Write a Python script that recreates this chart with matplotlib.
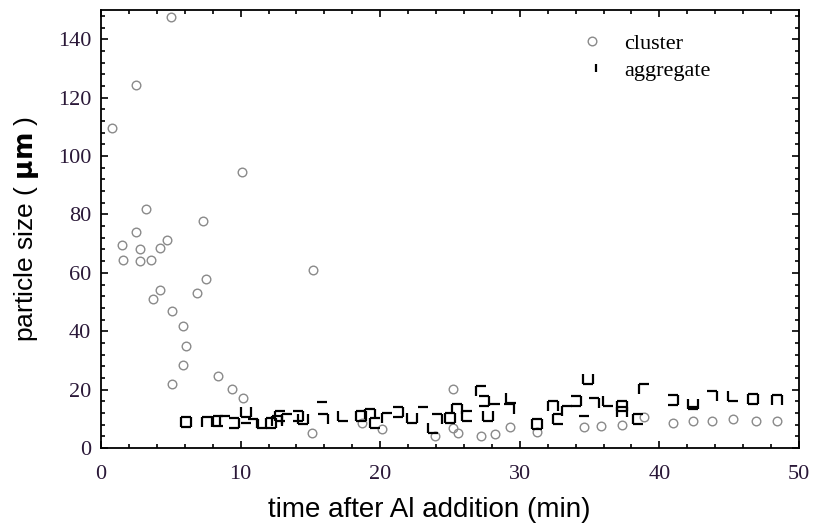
import matplotlib.pyplot as plt
import numpy as np
from matplotlib.path import Path

# cluster sizes (um) vs time (min)
cluster_t = [0.8, 2.5, 5.0, 10.1, 3.2, 7.3, 2.5, 1.5, 2.8, 4.7, 4.2, 1.6, 2.8, 3.6,
             3.7, 4.2, 5.1, 5.9, 6.1, 5.9, 5.1, 6.9, 7.5, 8.4, 9.4, 10.2, 15.2, 25.2,
             15.1, 18.7, 20.1, 23.9, 25.2, 25.6, 27.2, 28.2, 29.3, 31.2, 34.6,
             35.8, 37.3, 38.9, 41.0, 42.4, 43.8, 45.3, 46.9, 48.4]
cluster_d = [109.5, 124.5, 147.5, 94.5, 82, 77.6, 74, 69.7, 68, 71.4, 68.6, 64.5, 64, 64.5,
             51, 54, 47, 41.7, 35, 28.6, 22, 53, 58, 24.8, 20.3, 17, 61, 20.3,
             5, 8.7, 6.4, 4.1, 7, 5.3, 4.1, 4.8, 7.2, 5.5, 7.2,
             7.6, 7.8, 10.5, 8.7, 9.1, 9.3, 10, 9.3, 9.3]

# aggregate sizes (um) vs time (min)
aggr_t = [6.1, 7.6, 8.4, 8.9, 9.5, 10.4, 10.4, 10.9, 11.5, 12.2, 12.6, 12.8, 13.3, 14.1,
          14.5, 15.8, 15.9, 17.3, 18.6, 19.3, 19.6, 20.5, 21.3, 22.3, 23.1, 24.1, 23.8,
          25.0, 25.5, 26.2, 27.2, 27.4, 27.7, 28.2, 29.2, 29.4, 31.2, 32.4, 32.7, 33.4,
          34.0, 34.9, 34.6, 35.3, 36.3, 37.3, 37.3, 38.5, 38.9, 41.0, 42.4, 42.4,
          43.8, 45.3, 46.7, 48.4]
aggr_d = [9, 9, 9.3, 9.3, 8.7, 12.2, 7, 8.4, 8.7, 8.7, 9.3, 11, 9.9, 11,
          10, 13.9, 10, 11, 11, 11.7, 8.7, 10.4, 12.2, 10.4, 12.2, 9.9, 7,
          10.4, 13.3, 11, 19.7, 16.2, 11, 13.3, 13.4, 17.3, 8.4, 14.5, 9.9, 12.8,
          16.2, 23.8, 9.3, 15.6, 16.2, 14.5, 12.2, 10, 20.3, 16.5, 15.2, 12.2,
          17.9, 17.9, 16.8, 16.5]

x_ticks = [0, 10, 20, 30, 40, 50]
y_ticks = [0, 20, 40, 60, 80, 100, 120, 140]

# open squares with some sides dropped
corners = [(-1, -1), (1, -1), (1, 1), (-1, 1)]
side_sets = [(0, 1, 2, 3), (1, 2, 3), (0, 2, 3), (2, 3), (0, 1, 2), (3, 0, 1), (2,), (1, 2), (0, 3)]


def partial_square(sides):
    verts, codes = [], []
    for s in sides:
        verts += [corners[s], corners[(s + 1) % 4]]
        codes += [Path.MOVETO, Path.LINETO]
    return Path(verts, codes)


plt.rcParams['font.family'] = ['Liberation Serif']
fig = plt.figure(figsize=(8.17, 5.29), dpi=100)
ax = fig.add_axes([0.1236, 0.153, 0.8544, 0.828])

ax.plot(cluster_t, cluster_d, 'o', ms=6.2, mfc='none', mec='#8a8a8a', mew=1.0, label='cluster')
for i, (t, d) in enumerate(zip(aggr_t, aggr_d)):
    ax.plot([t], [d], ls='none', marker=partial_square(side_sets[i % len(side_sets)]),
            ms=7, mfc='none', mec='black', mew=1.6)
# legend entry for aggregates
ax.plot([], [], ls='none', marker=partial_square((1,)), ms=6, mec='black', mew=1.6, label='aggregate')

ax.set_xlim(0, 50)
ax.set_ylim(0, 150)
ax.set_xticks(x_ticks)
ax.set_yticks(y_ticks)
ax.set_xticks(np.arange(0, 51, 2), minor=True)
ax.set_yticks(np.arange(0, 151, 4), minor=True)
ax.tick_params(which='both', direction='in', top=True, right=True, width=1.2,
               labelsize=16, labelcolor='#2a1838')
ax.tick_params(which='major', length=5)
ax.tick_params(which='minor', length=3)
ax.tick_params(axis='x', pad=12)
ax.tick_params(axis='y', pad=7)
for sp in ax.spines.values():
    sp.set_linewidth(1.3)

ax.set_xlabel('time after Al addition (min)', family='Liberation Sans', fontsize=20)
ax.xaxis.set_label_coords(0.47, -0.111)
ax.set_ylabel(r'particle size ( $\mathbf{\mu m}$ )', family='Liberation Sans', fontsize=19, labelpad=12)

ax.legend(loc='upper left', bbox_to_anchor=(0.657, 0.983), frameon=False, fontsize=16,
          handletextpad=0.7, labelspacing=0.3, handlelength=1.5, borderpad=0.2)

fig.savefig('out.png', dpi=100)
